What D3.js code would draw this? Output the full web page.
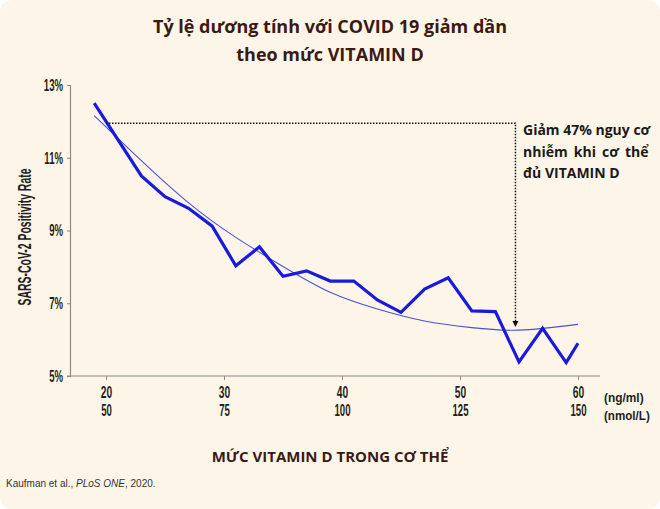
<!DOCTYPE html>
<html><head><meta charset="utf-8">
<script src="https://cdn.jsdelivr.net/npm/d3@7"></script>
<style>body{margin:0;background:#fff}svg{display:block}</style>
</head><body>
<svg id="c" width="660" height="509"></svg>
<script>
// ---- data ----
const vitaminNg = [19,23,25,27,29,31,33,35,37,39,41,43,45,47,49,51,53,55,57,59,60];
const positivity = [12.50,10.50,9.93,9.61,9.12,8.03,8.55,7.74,7.89,7.61,7.61,7.09,6.75,7.39,7.70,6.79,6.77,5.39,6.31,5.37,5.90];
const fitX = [19,23,27,31,35,39,43,47,51,55,60];
const fitY = [12.16,10.92,9.76,8.81,8.01,7.3,6.84,6.51,6.33,6.26,6.42];
const xTicks = [20,30,40,50,60];
const xTickNmol = ["50","75","100","125","150"];
const yTicks = [5,7,9,11,13];
const annotX = [20, 54.7];
const annotY = [11.95, 6.35];
const annotLines = ["Giảm 47% nguy cơ", "nhiễm khi cơ thể", "đủ VITAMIN D"];
const titleLines = ["Tỷ lệ dương tính với COVID 19 giảm dần", "theo mức VITAMIN D"];

const svg = d3.select("#c");
const W = 660, H = 509;
svg.append("rect").attr("x",0).attr("y",0).attr("width",W).attr("height",H)
  .attr("rx",12).attr("ry",12).attr("fill","#fdf6e8");

const x = d3.scaleLinear().domain([20,60]).range([106,578]);
const y = d3.scaleLinear().domain([5,13]).range([376,85]);

const cond = "'Liberation Sans','Arial',sans-serif";
const myriad = "'Open Sans','Noto Sans',sans-serif";

// squeeze text horizontally (condensed look)
function squeeze(sel, f){
  sel.each(function(){
    const w = this.getComputedTextLength();
    d3.select(this).attr("textLength", w*f).attr("lengthAdjust","spacingAndGlyphs");
  });
}

// title
svg.append("g").selectAll("text").data(titleLines).join("text")
  .attr("x",330).attr("y",(d,i)=>33+i*28)
  .attr("text-anchor","middle")
  .attr("font-family",myriad).attr("font-weight",700).attr("font-size",18)
  .attr("fill","#3b1a14").text(d=>d);

// y axis
const yAxis = d3.axisLeft(y).tickValues(yTicks).tickSize(3).tickFormat(d=>d+"%");
const gy = svg.append("g").attr("transform","translate(70,0)").call(yAxis);
gy.select(".domain").attr("stroke","#8a8a8a").attr("stroke-width",1.2);
gy.selectAll(".tick line").attr("stroke","#8a8a8a");
gy.selectAll(".tick text").attr("x",-7).attr("font-family",cond).attr("font-weight",700)
  .attr("font-size",16.5).attr("fill","#231f20").call(squeeze,0.58);

// x axis
svg.append("line").attr("x1",67).attr("x2",600).attr("y1",y(5)).attr("y2",y(5))
  .attr("stroke","#8a8a8a").attr("stroke-width",1.2);
const xAxis = d3.axisBottom(x).tickValues(xTicks).tickSize(4).tickFormat(d3.format("d"));
const gx = svg.append("g").attr("transform",`translate(0,${y(5)})`).call(xAxis);
gx.select(".domain").remove();
gx.selectAll(".tick line").attr("stroke","#8a8a8a");
gx.selectAll(".tick text").attr("y",11).attr("font-family",cond).attr("font-weight",700)
  .attr("font-size",16).attr("fill","#231f20").call(squeeze,0.64);
gx.selectAll(".tick").append("text").attr("y",29).attr("dy","0.71em")
  .attr("text-anchor","middle").attr("font-family",cond).attr("font-weight",700)
  .attr("font-size",16).attr("fill","#231f20")
  .text((d,i)=>xTickNmol[i]).call(squeeze,0.6);
svg.append("text").attr("x",604).attr("y",y(5)+26).attr("font-family",cond).attr("font-weight",700)
  .attr("font-size",13.5).attr("fill","#231f20").text("(ng/ml)").call(squeeze,0.88);
svg.append("text").attr("x",604).attr("y",y(5)+44).attr("font-family",cond).attr("font-weight",700)
  .attr("font-size",13.5).attr("fill","#231f20").text("(nmol/L)").call(squeeze,0.86);

// axis titles
svg.append("text").attr("transform","translate(31,237) rotate(-90)")
  .attr("text-anchor","middle").attr("font-family",cond).attr("font-weight",700)
  .attr("font-size",18).attr("fill","#231f20")
  .attr("textLength",137).attr("lengthAdjust","spacingAndGlyphs")
  .text("SARS-CoV-2 Positivity Rate");
svg.append("text").attr("x",330).attr("y",462).attr("text-anchor","middle")
  .attr("font-family",myriad).attr("font-weight",700).attr("font-size",15)
  .attr("fill","#3b1a14").text("MỨC VITAMIN D TRONG CƠ THỂ");

// footnote
const fn = svg.append("text").attr("x",6).attr("y",487)
  .attr("font-family","'Liberation Sans',Arial,sans-serif").attr("font-size",10).attr("fill","#333");
fn.append("tspan").text("Kaufman et al., ");
fn.append("tspan").attr("font-style","italic").text("PLoS ONE");
fn.append("tspan").text(", 2020.");

// fit curve
const fitData = fitX.map((v,i)=>[v,fitY[i]]);
svg.append("path").datum(fitData)
  .attr("d",d3.line().x(d=>x(d[0])).y(d=>y(d[1])).curve(d3.curveNatural))
  .attr("fill","none").attr("stroke","#4a52d8").attr("stroke-width",1.1);

// data line
const lineData = vitaminNg.map((v,i)=>[v,positivity[i]]);
svg.append("path").datum(lineData)
  .attr("d",d3.line().x(d=>x(d[0])).y(d=>y(d[1])))
  .attr("fill","none").attr("stroke","#1a1adc").attr("stroke-width",3.2)
  .attr("stroke-linejoin","miter");

// annotation dotted lines
svg.append("path")
  .attr("d",`M${x(annotX[0])},${y(annotY[0])}H${x(annotX[1])}V${y(annotY[1])-5}`)
  .attr("fill","none").attr("stroke","#111").attr("stroke-width",1.5)
  .attr("stroke-dasharray","1.5,1.5");
const ax = x(annotX[1]), ay = y(annotY[1]);
svg.append("path").attr("d",`M${ax-3},${ay-6}L${ax+3},${ay-6}L${ax},${ay}Z`).attr("fill","#111");

svg.append("g").selectAll("text").data(annotLines).join("text")
  .attr("x",523).attr("y",(d,i)=>135+i*21.5)
  .attr("font-family",myriad).attr("font-weight",700).attr("font-size",14)
  .attr("fill","#1a1a1a")
  .attr("word-spacing",(d,i)=>i===1?2.5:0)
  .text(d=>d);
</script>
</body></html>
